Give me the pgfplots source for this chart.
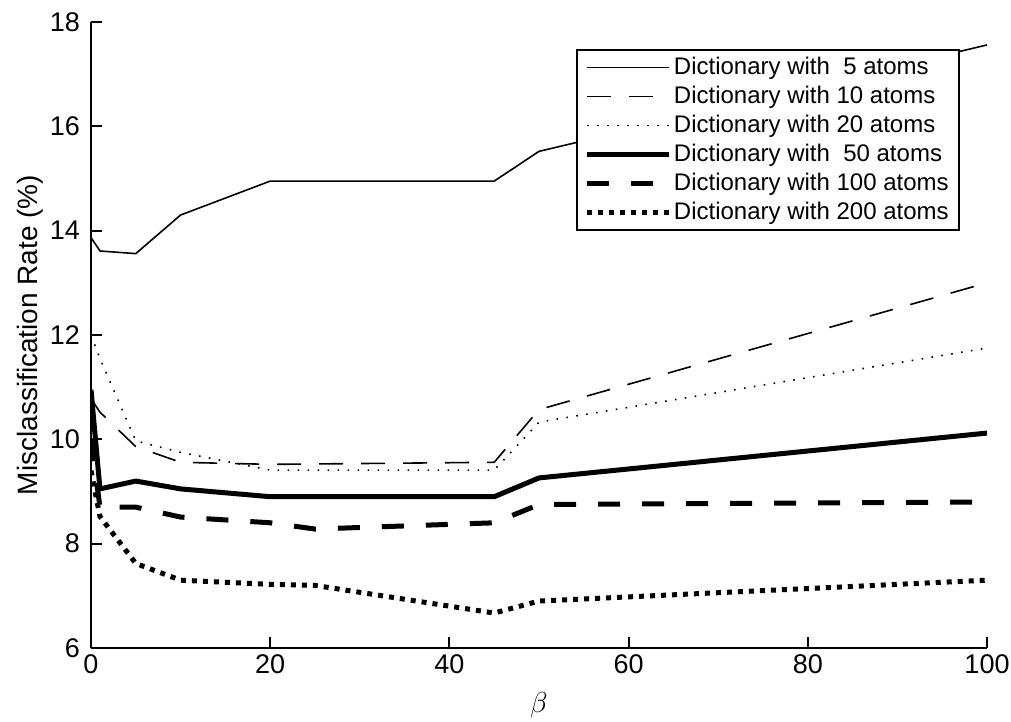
\documentclass[border=0pt]{standalone}
\usepackage{fontspec}
\setmainfont{Liberation Sans}
\usepackage{pgfplots}
\pgfplotsset{compat=1.18}
\begin{document}
\begin{tikzpicture}
\path[use as bounding box] (-45.5pt,-37pt) rectangle (460pt,324pt);
\begin{axis}[
  at={(0pt,0pt)}, anchor=south west,
  scale only axis,
  width=448pt, height=313pt,
  xmin=0, xmax=100, ymin=6, ymax=18,
  xtick={0,20,40,60,80,100},
  ytick={6,8,10,12,14,16,18},
  axis lines=left,
  axis line style={-, line width=1pt},
  every tick/.style={line width=1pt, black},
  major tick length=5.5pt,
  tick align=inside,
  /pgf/number format/assume math mode=true,
  tick label style={font=\fontsize{13.5}{15}\selectfont},
  yticklabel style={xshift=-2pt},
  xlabel={$\beta$},
  ylabel={Misclassification Rate (\%)},
  xlabel style={at={(axis description cs:0.5,-0.091)}, anchor=center, font=\fontsize{14}{16}\selectfont},
  ylabel style={at={(axis description cs:-0.068,0.5)}, anchor=center, rotate=0, font=\fontsize{14}{16}\selectfont},
  legend style={at={(0.970,0.957)}, anchor=north east, draw=black, line width=1pt, fill=white,
    font=\fontsize{12}{14}\selectfont, row sep=1.9pt, inner xsep=4pt, inner ysep=2.5pt,
    nodes={inner sep=1.2pt}},
  legend cell align=left,
  legend image code/.code={\draw[#1] (0pt,0pt) -- (41pt,0pt);},
]
\addplot[black, line width=0.8pt, line join=round] coordinates {
(0,13.87) (1,13.61) (5,13.56) (10,14.3) (20,14.95) (45,14.95) (50,15.52) (100,17.56)};
\addlegendentry{Dictionary with\ \ 5 atoms}
\addplot[black, line width=0.8pt, dash pattern=on 12pt off 9pt] coordinates {
(0,10.78) (1,10.52) (5,9.86) (10,9.56) (20,9.52) (45,9.56) (50,10.57) (100,13.0)};
\addlegendentry{Dictionary with 10 atoms}
\addplot[black, line width=0.8pt, dash pattern=on 0.8pt off 4.2pt] coordinates {
(0,12.0) (1,11.55) (5,9.97) (10,9.75) (20,9.41) (45,9.41) (50,10.33) (100,11.75)};
\addlegendentry{Dictionary with 20 atoms}
\addplot[black, line width=2.5pt, line join=round] coordinates {
(0,10.95) (1,9.05) (5,9.2) (10,9.05) (20,8.9) (45,8.9) (50,9.26) (100,10.12)};
\addlegendentry{Dictionary with\ \ 50 atoms}
\addplot[black, line width=2.5pt, dash pattern=on 11pt off 11pt] coordinates {
(0,10.0) (1,8.7) (5,8.7) (10,8.51) (20,8.4) (25,8.28) (45,8.4) (50,8.75) (100,8.8)};
\addlegendentry{Dictionary with 100 atoms}
\addplot[black, line width=2.5pt, dash pattern=on 2.5pt off 3pt] coordinates {
(0,9.4) (1,8.52) (5,7.62) (10,7.3) (20,7.22) (25,7.2) (45,6.67) (50,6.9) (100,7.3)};
\addlegendentry{Dictionary with 200 atoms}
\end{axis}
\end{tikzpicture}
\end{document}
